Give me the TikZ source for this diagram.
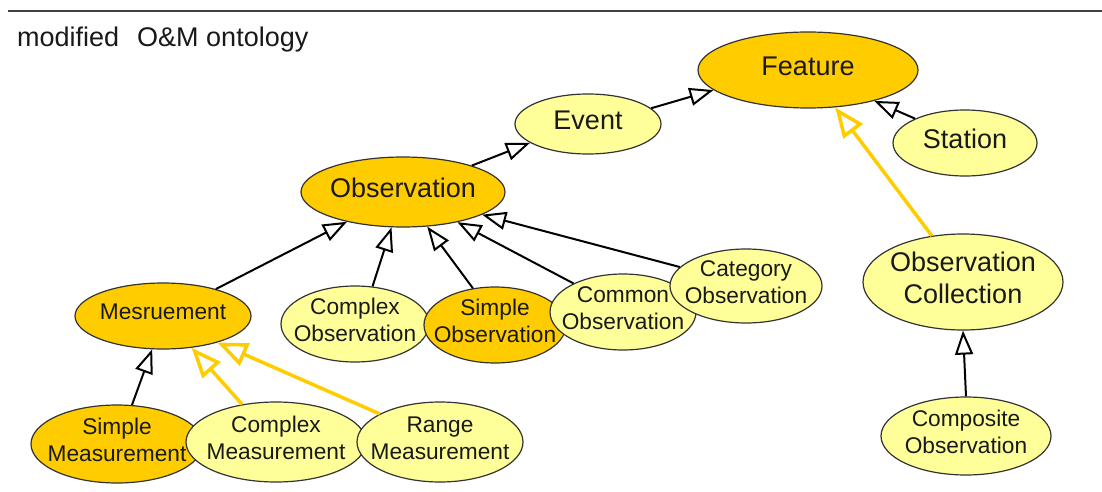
\documentclass[tikz,border=0pt]{standalone}
\usepackage{fontspec}
\setmainfont{Liberation Sans}
\usetikzlibrary{shapes.geometric, arrows.meta}
\definecolor{gold}{HTML}{FFCC00}
\definecolor{pale}{HTML}{FFFF99}
\begin{document}
\begin{tikzpicture}[x=1pt,y=-1pt,
  cls/.style={ellipse, draw=black!80, line width=1.2pt, inner sep=-40pt, align=center, text depth=8pt, text=black!90},
  big/.style={font=\fontsize{27}{32}\selectfont},
  small/.style={font=\fontsize{22.7}{27}\selectfont},
  goldfill/.style={fill=gold},
  palefill/.style={fill=pale},
  sz/.style 2 args={minimum width=#1pt, minimum height=#2pt},
  isa/.style={draw=black, line width=2pt, -{Triangle[open, length=24pt, width=18pt]}},
  yisa/.style={draw=gold, line width=3.5pt, -{Triangle[open, length=30pt, width=24pt]}},
  rule/.style={draw=black!75, line width=2pt}
]
\useasboundingbox (0,0) rectangle (1102,492);
\fill[white] (0,0) rectangle (1102,492);
\coordinate (ruleL) at (8,11);
\coordinate (ruleR) at (1102,11);
\draw[rule] (ruleL) -- (ruleR);
\node[anchor=base west, inner sep=0, font=\fontsize{27}{30}\selectfont, text=black!90] (title) at (17,47) {modified\hspace{18pt}O\&M ontology};

\node[cls,big,goldfill,sz={220}{76}] (feat) at (808,70) {Feature};
\node[cls,big,palefill,sz={146}{60}] (event) at (588,124) {Event};
\node[cls,big,palefill,sz={144}{66}] (station) at (965,143) {Station};
\node[cls,big,goldfill,sz={204}{70}] (obs) at (403,192) {Observation};
\node[cls,small,goldfill,sz={176}{66}] (mes) at (163,316) {Mesruement};
\node[cls,small,palefill,sz={148}{76}] (cobs) at (355,324) {Complex\\Observation};
\node[cls,small,goldfill,sz={142}{76}] (sobs) at (495,325) {Simple\\Observation};
\node[cls,small,palefill,sz={146}{76}] (comobs) at (623,312) {Common\\Observation};
\node[cls,small,palefill,sz={152}{74}] (catobs) at (746,286) {Category\\Observation};
\node[cls,big,palefill,sz={200}{96}] (obscoll) at (963,282) {Observation\\Collection};
\node[cls,small,palefill,sz={170}{78}] (compobs) at (966,436) {Composite\\Observation};
\node[cls,small,goldfill,sz={172}{78}] (smeas) at (117,444) {Simple\\Measurement};
\node[cls,small,palefill,sz={180}{80}] (cmeas) at (276,442) {Complex\\Measurement};
\node[cls,small,palefill,sz={166}{80}] (rmeas) at (440,442) {Range\\Measurement};

\draw[isa] (event.14.7) -- (feat.192.5);
\draw[isa] (station.154.4) -- (feat.335.9);
\draw[yisa] (obscoll.124.8) -- (feat.306.1);
\draw[isa] (obs.21.1) -- (event.198.7);
\draw[isa] (mes.27.4) -- (obs.208.2);
\draw[isa] (cobs.65.3) -- (obs.252.6);
\draw[isa] (sobs.121.9) -- (obs.305.2);
\draw[isa] (comobs.150.4) -- (obs.331.4);
\draw[isa] (catobs.164.4) -- (obs.344.3);
\draw[isa] (smeas.69) -- (mes.252);
\draw[yisa] (cmeas.132.6) -- (mes.312.2);
\draw[yisa] (rmeas.155.9) -- (mes.334.7);
\draw[isa] (compobs.north) -- (obscoll.south);
\end{tikzpicture}
\end{document}
